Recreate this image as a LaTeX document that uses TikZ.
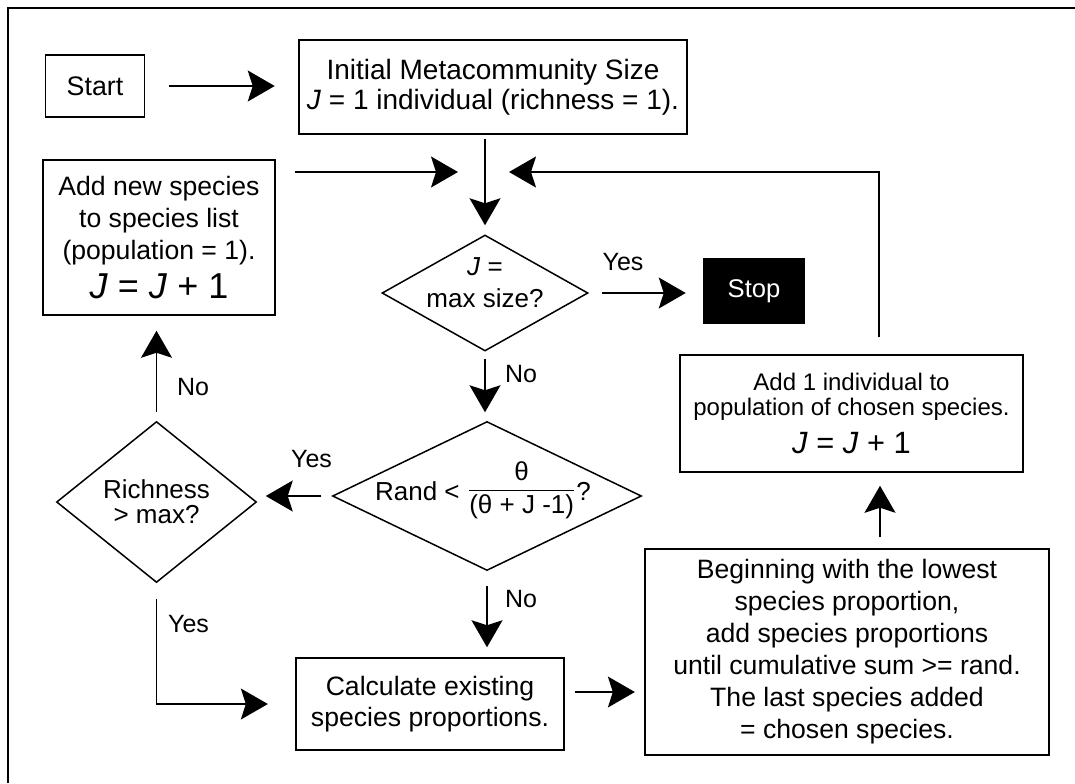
\documentclass[tikz,border=0pt]{standalone}
\usepackage{fontspec}
\setmainfont{Liberation Sans}
\usetikzlibrary{arrows.meta,shapes.geometric}

\begin{document}
\begin{tikzpicture}[x=0.5pt, y=-0.5pt,
		box/.style={draw, line width=0.75pt, align=center, inner sep=0pt},
		decision/.style={diamond, draw, line width=0.75pt, inner sep=0pt},
		flow/.style={line width=0.75pt, -{Stealth[length=13.5pt, width=15.5pt, inset=2.5pt]}},
		lbl/.style={font=\fontsize{12.5}{14}\selectfont, anchor=base, inner sep=0pt}]
		%%%%% START %%%%%
		
		\useasboundingbox (0,0) rectangle (1075,783);
		\draw[line width=1pt] (7.6,783) -- (7.6,7.6) -- (1075,7.6);
		
		\node[box, minimum width=49.5pt, minimum height=31pt, font=\fontsize{13.4}{16}\selectfont] (start) at (95,86) {Start};
		\node[box, minimum width=194pt, minimum height=47pt, font=\fontsize{14}{15}\selectfont] (init) at (493,87) {Initial Metacommunity Size\\\textit{J} = 1 individual (richness = 1).};
		\node[box, minimum width=116pt, minimum height=77.5pt, font=\fontsize{13.3}{16}\selectfont] (addnew) at (159,237.5) {Add new species\\to species list\\(population = 1).\\[3.5pt]{\fontsize{18}{18}\selectfont\textit{J} = \textit{J} + 1}};
		
		\node[decision, minimum width=103pt, minimum height=58pt, label={[font=\fontsize{13}{16}\selectfont, align=center, yshift=5pt]center:{\textit{J} =\\max size?}}] (dmax) at (485,293) {};
		\node[box, fill=black, text=white, minimum width=50.5pt, minimum height=32pt, font=\fontsize{12.8}{15}\selectfont] (stop) at (754,291) {Stop};
		
		\node[decision, minimum width=154.5pt, minimum height=74.5pt, label={[font=\fontsize{13}{16}\selectfont, yshift=3pt, xshift=-2pt]center:{Rand < \raisebox{2pt}{$\displaystyle\frac{\mbox{θ}}{\mbox{(θ + J -1)}}$}?}}] (dq) at (487,496) {};
		\node[decision, minimum width=100pt, minimum height=80.5pt, label={[font=\fontsize{13}{12.5}\selectfont, align=center]center:{Richness\\> max?}}] (drich) at (156.5,502) {};
		
		\node[box, minimum width=171.5pt, minimum height=58.5pt, font=\fontsize{12}{12.5}\selectfont] (addone) at (851.5,413.5) {Add 1 individual to\\population of chosen species.\\[5pt]{\fontsize{15.4}{16}\selectfont\textit{J} = \textit{J} + 1}};
		\node[box, minimum width=134pt, minimum height=46pt, font=\fontsize{13.3}{15.5}\selectfont] (calc) at (430,704) {Calculate existing\\species proportions.};
		\node[box, minimum width=202pt, minimum height=103pt, font=\fontsize{13.3}{16}\selectfont] (begin) at (847,652) {Beginning with the lowest\\species proportion,\\add species proportions\\until cumulative sum >= rand.\\The last species added\\= chosen species.};
		
		\coordinate (merge) at (484,172);
		
		\draw[flow, shorten <=12pt, shorten >=11.75pt] (start.east) -- (start.east -| init.west);
		\draw[flow, shorten <=2pt, shorten >=4.5pt] (dmax.north |- init.south) -- (dmax.north);
		\draw[flow, shorten <=9.5pt, shorten >=13pt] (addnew.north east |- merge) -- (merge);
		\draw[flow, shorten <=8.5pt, shorten >=12.5pt] ([xshift=13.75pt]addone.north) |- (merge);
		
		\draw[flow, shorten <=6.4pt, shorten >=8.5pt] (dmax.east) -- (dmax.east -| stop.west);
		\draw[flow, shorten <=3.5pt, shorten >=4.25pt] (dmax.south) -- (dmax.south |- dq.north);
		\draw[flow, shorten <=5.25pt, shorten >=4.25pt] (dq.west) -- (dq.west -| drich.east);
		\draw[flow, shorten <=4.25pt, shorten >=7.5pt] (drich.north) -- (drich.north |- addnew.south);
		\draw[flow, shorten <=7.75pt, shorten >=13.7pt] (drich.south) |- (calc.west);
		\draw[flow, shorten <=7.25pt, shorten >=5pt] (dq.south) -- (dq.south |- calc.north);
		\draw[flow, shorten <=5pt, shorten >=4.7pt] ([yshift=6pt]calc.east) -- ([yshift=6pt]calc.east -| begin.west);
		\draw[flow, shorten <=5.5pt, shorten >=6.5pt] ([xshift=16.5pt]begin.north) -- ([xshift=16.5pt]begin.north |- addone.south);
		
		\node[lbl] (yesstop) at (623,270) {Yes};
		\node[lbl] (nomax) at (521,382) {No};
		\node[lbl] (yesrand) at (311.5,467) {Yes};
		\node[lbl] (norand) at (521,607) {No};
		\node[lbl] (norich) at (193,395) {No};
		\node[lbl] (yesrich) at (188.5,632) {Yes};
		
		%%%%% END %%%%%
	\end{tikzpicture}
\end{document}
